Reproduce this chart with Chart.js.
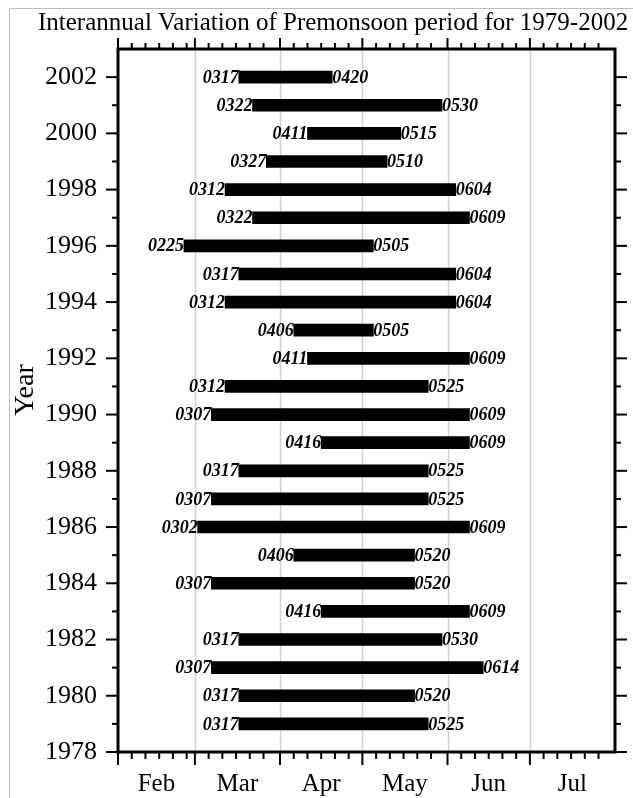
<!DOCTYPE html>
<html>
<head>
<meta charset="utf-8">
<script src="https://cdn.jsdelivr.net/npm/chart.js@4.4.1/dist/chart.umd.min.js"></script>
<style>
  html, body { margin: 0; padding: 0; background: #fff; }
  canvas { display: block; }
</style>
</head>
<body>
<canvas id="premonsoonChart" width="633" height="798"></canvas>
<script>
// data (MMDD onset / withdrawal dates)
const years = [1979, 1980, 1981, 1982, 1983, 1984, 1985, 1986, 1987, 1988, 1989, 1990,
               1991, 1992, 1993, 1994, 1995, 1996, 1997, 1998, 1999, 2000, 2001, 2002];
const startDates = ['0317', '0317', '0307', '0317', '0416', '0307', '0406', '0302', '0307', '0317', '0416', '0307',
                    '0312', '0411', '0406', '0312', '0317', '0225', '0322', '0312', '0327', '0411', '0322', '0317'];
const endDates = ['0525', '0520', '0614', '0530', '0609', '0520', '0520', '0609', '0525', '0525', '0609', '0609',
                  '0525', '0609', '0505', '0604', '0604', '0505', '0609', '0604', '0510', '0515', '0530', '0420'];
const monthLabels = ['Feb', 'Mar', 'Apr', 'May', 'Jun', 'Jul'];
const yearTicks = [1978, 1980, 1982, 1984, 1986, 1988, 1990, 1992, 1994, 1996, 1998, 2000, 2002];

// days before each month (non-leap), Jan 1 = 0
const cumDays = [0, 31, 59, 90, 120, 151, 181, 212, 243, 273, 304, 334, 365];
function dayOfYear(mmdd) {
    const m = parseInt(mmdd.slice(0, 2), 10);
    const d = parseInt(mmdd.slice(2), 10);
    return cumDays[m - 1] + d - 1;
}

const xMin = cumDays[1];   // Feb 1
const xMax = cumDays[7];   // Aug 1
const monthStarts = cumDays.slice(1, 8);
const monthMids = monthLabels.map((_, i) => (cumDays[i + 1] + cumDays[i + 2]) / 2);

const serif = "'Liberation Serif', 'Times New Roman', serif";

// frame, ticks, gridlines, titles and bar labels
const decorations = {
    id: 'decorations',
    beforeDatasetsDraw(chart) {
        const { ctx, chartArea: a, scales: { x } } = chart;
        ctx.save();
        ctx.strokeStyle = '#d0d0d0';
        ctx.lineWidth = 1.5;
        monthStarts.forEach(v => {
            if (v <= xMin || v >= xMax) return;
            const px = Math.round(x.getPixelForValue(v)) + 0.5;
            ctx.beginPath();
            ctx.moveTo(px, a.top);
            ctx.lineTo(px, a.bottom);
            ctx.stroke();
        });
        ctx.restore();
    },
    afterDatasetsDraw(chart) {
        const { ctx, chartArea: a, scales: { x, y } } = chart;
        ctx.save();

        // outer light frame of the figure
        ctx.strokeStyle = '#bdbdbd';
        ctx.lineWidth = 1;
        ctx.beginPath();
        ctx.moveTo(9.5, chart.height);
        ctx.lineTo(9.5, 8.5);
        ctx.lineTo(chart.width, 8.5);
        ctx.stroke();

        // ticks
        ctx.strokeStyle = '#000';
        ctx.lineWidth = 2;
        const tick = (x1, y1, x2, y2) => {
            ctx.beginPath();
            ctx.moveTo(x1, y1);
            ctx.lineTo(x2, y2);
            ctx.stroke();
        };
        for (let m = 1; m <= 6; m++) {
            const px = x.getPixelForValue(cumDays[m]);
            tick(px, a.bottom, px, a.bottom + 13);
            tick(px, a.top, px, a.top - 11);
            [6, 11, 16, 21, 26].forEach(d => {
                const mp = x.getPixelForValue(cumDays[m] + d - 1);
                tick(mp, a.bottom, mp, a.bottom + 7);
                tick(mp, a.top, mp, a.top - 6);
            });
        }
        for (let yr = 1978; yr <= 2002; yr++) {
            const py = y.getPixelForValue(yr);
            const len = yr % 2 === 0 ? 12 : 6;
            tick(a.left, py, a.left - len, py);
            tick(a.right, py, a.right + len, py);
        }

        // plot frame
        ctx.lineWidth = 3;
        ctx.strokeRect(a.left, a.top, a.right - a.left, a.bottom - a.top);

        // bar labels
        ctx.fillStyle = '#000';
        ctx.font = `italic bold 18px ${serif}`;
        ctx.textBaseline = 'middle';
        chart.getDatasetMeta(0).data.forEach((bar, i) => {
            const left = Math.min(bar.x, bar.base);
            const right = Math.max(bar.x, bar.base);
            ctx.textAlign = 'right';
            ctx.fillText(startDates[i], left, bar.y + 1);
            ctx.textAlign = 'left';
            ctx.fillText(endDates[i], right, bar.y + 1);
        });

        // title
        ctx.font = `25px ${serif}`;
        ctx.textAlign = 'left';
        ctx.textBaseline = 'alphabetic';
        ctx.fillText('Interannual Variation of Premonsoon period for 1979-2002', 38, 30);

        // y axis title
        ctx.font = `28px ${serif}`;
        ctx.translate(26, 390);
        ctx.rotate(-Math.PI / 2);
        ctx.textAlign = 'center';
        ctx.textBaseline = 'middle';
        ctx.fillText('Year', 0, 0);

        ctx.restore();
    }
};

new Chart(document.getElementById('premonsoonChart'), {
    type: 'bar',
    data: {
        datasets: [{
            data: years.map((yr, i) => ({ y: yr, x: [dayOfYear(startDates[i]), dayOfYear(endDates[i])] })),
            backgroundColor: '#000',
            borderWidth: 0,
            barThickness: 12
        }]
    },
    options: {
        indexAxis: 'y',
        responsive: false,
        animation: false,
        layout: { padding: { top: 49, right: 18, left: 0, bottom: 0 } },
        plugins: {
            legend: { display: false },
            tooltip: { enabled: false }
        },
        scales: {
            x: {
                type: 'linear',
                min: xMin,
                max: xMax,
                offset: false,
                grid: { display: false },
                border: { display: false },
                afterBuildTicks: scale => { scale.ticks = monthMids.map(v => ({ value: v })); },
                afterFit: scale => { scale.height = 46; },
                ticks: {
                    autoSkip: false,
                    maxRotation: 0,
                    padding: 9,
                    color: '#000',
                    font: { family: serif, size: 25 },
                    callback: (v, i) => monthLabels[i]
                }
            },
            y: {
                type: 'linear',
                min: 1978,
                max: 2003,
                offset: false,
                grid: { display: false },
                border: { display: false },
                afterBuildTicks: scale => { scale.ticks = yearTicks.map(v => ({ value: v })); },
                afterFit: scale => { scale.width = 118; },
                ticks: {
                    autoSkip: false,
                    padding: 13,
                    color: '#000',
                    font: { family: serif, size: 26 },
                    callback: v => String(v)
                }
            }
        }
    },
    plugins: [decorations]
});
</script>
</body>
</html>
